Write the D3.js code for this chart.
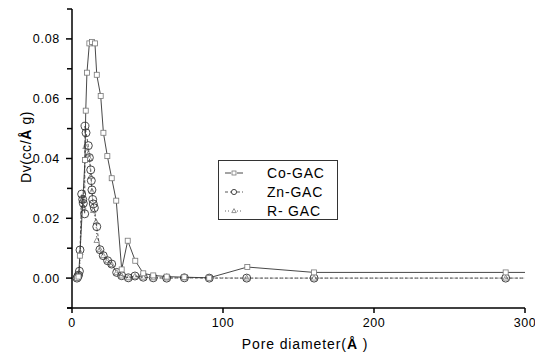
<!DOCTYPE html>
<html>
<head>
<meta charset="utf-8">
<script src="https://d3js.org/d3.v7.min.js"></script>
<style>
  body { margin: 0; background: #fff; }
  text { font-family: "Liberation Sans", Arial, sans-serif; fill: #000; }
</style>
</head>
<body>
<div id="chart"></div>
<script>
// pore diameter (Å) and Dv values
var coX = [3.3, 4.3, 5.2, 8.6, 9.1, 9.9, 11.5, 13.2, 15.2, 16.4, 19.0, 20.8, 23.4, 26.3, 29.3, 32.9, 36.9, 41.9, 47.2, 53.8, 62.7, 74.4, 90.9, 116.1, 160.3, 287.2, 300];
var coY = [0, 0.0005, 0.0075, 0.0395, 0.056, 0.0687, 0.0785, 0.079, 0.0785, 0.068, 0.0609, 0.0486, 0.0408, 0.0334, 0.0259, 0.0029, 0.0125, 0.0058, 0.0016, 0.0009, 0.0005, 0.0003, 0.0001, 0.0037, 0.0019, 0.0019, 0.0019];

var znX = [3.3, 3.8, 4.3, 4.9, 5.3, 6.4, 7.1, 7.5, 8.4, 8.6, 9.3, 10.8, 11.5, 12.4, 12.8, 13.2, 13.7, 14.1, 14.8, 16.4, 18.5, 20.7, 23.6, 26.3, 29.6, 32.9, 37.3, 41.7, 47.2, 53.8, 62.7, 74.4, 90.9, 115.7, 160.3, 287.2, 300];
var znY = [0, 0.0005, 0.001, 0.0023, 0.0094, 0.0281, 0.0263, 0.025, 0.0215, 0.0508, 0.0486, 0.0443, 0.0403, 0.0362, 0.0326, 0.0295, 0.0263, 0.0248, 0.0235, 0.0172, 0.0095, 0.0075, 0.0058, 0.0047, 0.0019, 0.0008, 0.0001, 0.0007, 0.0003, 0.0001, 0, 0.0001, 0, 0, 0, 0, 0];

var rX = [3.3, 4.3, 4.9, 5.5, 6.4, 7.5, 8.6, 9.0, 10.8, 11.5, 12.4, 13.2, 14.1, 15.9, 16.4, 18.5, 20.7, 23.6, 26.3, 29.6, 32.9, 37.3, 41.7, 47.2, 53.8, 62.7, 74.4, 90.9, 115.7, 160.3, 287.2, 300];
var rY = [0, 0.0005, 0.0015, 0.0085, 0.026, 0.0237, 0.0395, 0.044, 0.0415, 0.04, 0.034, 0.029, 0.0226, 0.0188, 0.0126, 0.0095, 0.0075, 0.0058, 0.0045, 0.0018, 0.0007, 0.0001, 0.0006, 0.0003, 0.0001, 0, 0.0001, 0.0001, 0, 0, 0, 0];

var seriesNames = ["Co-GAC", "Zn-GAC", "R- GAC"];
var xTicks = [0, 100, 200, 300];
var yTicks = [0, 0.02, 0.04, 0.06, 0.08];

var width = 535, height = 356;

var x = d3.scaleLinear().domain([0, 300]).range([72, 525]);
var y = d3.scaleLinear().domain([-0.01, 0.09]).range([308, 9]);

var svg = d3.select("#chart").append("svg")
  .attr("width", width)
  .attr("height", height);

var zip = function(xs, ys) {
  return xs.map(function(v, i) { return {x: v, y: ys[i]}; });
};

var series = [
  {name: seriesNames[0], data: zip(coX, coY), dash: null, marker: "square", stroke: "#333"},
  {name: seriesNames[1], data: zip(znX, znY), dash: "3,2", marker: "circle", stroke: "#444"},
  {name: seriesNames[2], data: zip(rX, rY), dash: "1,2", marker: "triangle", stroke: "#555"}
];

var line = d3.line()
  .x(function(d) { return x(d.x); })
  .y(function(d) { return y(d.y); });

var drawMarker = function(g, type, cx, cy, k) {
  k = k || 1;
  if (type === "square") {
    g.append("rect").attr("x", cx - 2.5 * k).attr("y", cy - 2.5 * k)
      .attr("width", 5 * k).attr("height", 5 * k)
      .attr("fill", "#fff").attr("stroke", "#777").attr("stroke-width", 0.8);
  } else if (type === "circle") {
    g.append("circle").attr("cx", cx).attr("cy", cy).attr("r", 4 * k)
      .attr("fill", "none").attr("stroke", "#333").attr("stroke-width", 0.9);
  } else {
    g.append("path")
      .attr("d", "M" + cx + "," + (cy - 3 * k) + "L" + (cx + 2.8 * k) + "," + (cy + 2 * k) + "L" + (cx - 2.8 * k) + "," + (cy + 2 * k) + "Z")
      .attr("fill", "#fff").attr("stroke", "#777").attr("stroke-width", 0.8);
  }
};

// lines + markers, drawn in reverse so Co-GAC sits on top
series.slice().reverse().forEach(function(s) {
  var g = svg.append("g");
  g.append("path")
    .datum(s.data)
    .attr("d", line)
    .attr("fill", "none")
    .attr("stroke", s.stroke)
    .attr("stroke-width", 0.9)
    .attr("stroke-dasharray", s.dash);
  s.data.filter(function(d) { return d.x < 300; }).forEach(function(d) {
    drawMarker(g, s.marker, x(d.x), y(d.y));
  });
});

// axes
var ax = svg.append("g").attr("stroke", "#000").attr("stroke-width", 1.5);
ax.append("line").attr("x1", x(0)).attr("x2", x(0)).attr("y1", y(0.09)).attr("y2", y(-0.01));
ax.append("line").attr("x1", x(0) - 5).attr("x2", x(300)).attr("y1", y(-0.01)).attr("y2", y(-0.01));

// y ticks (major + minor)
d3.range(-0.01, 0.0901, 0.01).forEach(function(v) {
  var major = yTicks.some(function(t) { return Math.abs(t - v) < 1e-6; });
  ax.append("line")
    .attr("x1", x(0) - (major ? 6 : 5)).attr("x2", x(0))
    .attr("y1", y(v)).attr("y2", y(v));
});
yTicks.forEach(function(v) {
  svg.append("text")
    .attr("x", 60).attr("y", y(v) + 4.5)
    .attr("text-anchor", "end")
    .style("font-size", "12.5px").style("letter-spacing", "0.7px")
    .text(d3.format(".2f")(v));
});

xTicks.forEach(function(v) {
  ax.append("line")
    .attr("x1", x(v)).attr("x2", x(v))
    .attr("y1", y(-0.01)).attr("y2", y(-0.01) + 5);
  svg.append("text")
    .attr("x", x(v)).attr("y", 327)
    .attr("text-anchor", "middle")
    .style("font-size", "12.5px").style("letter-spacing", "0.6px")
    .text(v);
});

// axis titles
var xt = svg.append("text")
  .attr("x", 305).attr("y", 349)
  .attr("text-anchor", "middle")
  .style("font-size", "14px").style("letter-spacing", "0.9px");
xt.append("tspan").text("Pore diameter(");
xt.append("tspan").style("font-weight", "bold").text("Å");
xt.append("tspan").text(" )");

var yt = svg.append("text")
  .attr("transform", "translate(31,147) rotate(-90)")
  .attr("text-anchor", "middle")
  .style("font-size", "14px").style("letter-spacing", "0.6px");
yt.append("tspan").text("Dv(cc/");
yt.append("tspan").style("font-weight", "bold").text("Å");
yt.append("tspan").text(" g)");

// legend
var lg = svg.append("g");
lg.append("rect")
  .attr("x", 218.5).attr("y", 160.5).attr("width", 119).attr("height", 59)
  .attr("fill", "#fff").attr("stroke", "#333").attr("stroke-width", 1);
series.forEach(function(s, i) {
  var ly = 173 + i * 19;
  [[225, 231], [237, 243]].forEach(function(seg) {
    lg.append("line")
      .attr("x1", seg[0]).attr("x2", seg[1]).attr("y1", ly).attr("y2", ly)
      .attr("stroke", s.stroke).attr("stroke-width", 0.9)
      .attr("stroke-dasharray", s.dash);
  });
  drawMarker(lg, s.marker, 234, ly, s.marker === "circle" ? 0.65 : 0.8);
  lg.append("text")
    .attr("x", 267).attr("y", ly + 5)
    .style("font-size", "14px").style("letter-spacing", "0.8px")
    .text(s.name);
});
</script>
</body>
</html>
